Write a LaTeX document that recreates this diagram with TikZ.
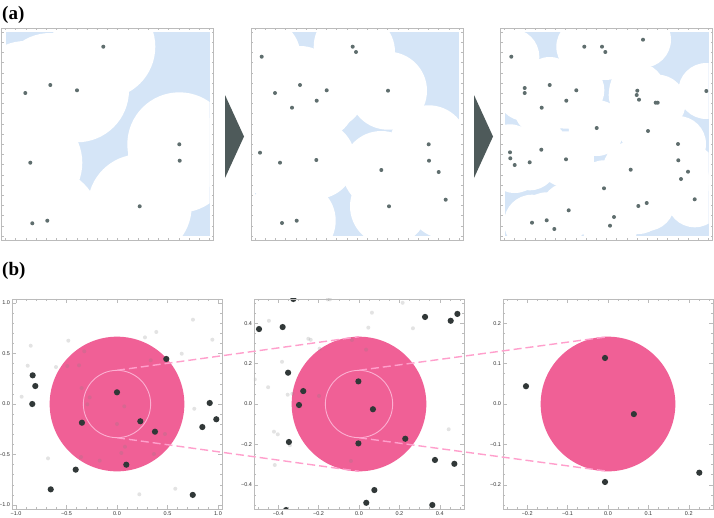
\documentclass[tikz,border=0pt]{standalone}
\usepackage{fontspec}
\setmainfont{Liberation Serif}
\newfontfamily\ticksf{Liberation Sans}
\definecolor{framecol}{HTML}{BBBBBB}
\definecolor{voidblue}{HTML}{D5E5F7}
\definecolor{seed}{HTML}{5F6E6E}
\definecolor{arrowcol}{HTML}{4E5A5A}
\definecolor{discpink}{HTML}{F06096}
\definecolor{ringpink}{HTML}{FCB0D2}
\definecolor{dashpink}{HTML}{FF9FCC}
\definecolor{darkdot}{HTML}{313838}
\definecolor{ticktext}{HTML}{333333}
\tikzset{
  panellabel/.style={font=\bfseries\fontsize{19}{19}\selectfont, anchor=west, inner sep=0pt},
  ticklabel/.style={font=\ticksf\fontsize{5.5}{6}\selectfont, text=ticktext, inner sep=0.3pt},
  zoomline/.style={dashpink, line width=1.4pt, dash pattern=on 8pt off 4pt},
  framebox/.style={draw=framecol, line width=0.6pt},
  tickline/.style={framecol, line width=0.5pt},
  seeddot/.style={fill=seed},
  faintdot/.style={fill=black!50, opacity=0.22},
  solidot/.style={fill=darkdot},
  ring/.style={draw=ringpink, line width=0.9pt},
  pointer/.style={fill=arrowcol},
}
% covering frame of panel (a): #1 left of data area, #2 disc radius, #3 dot list
\newcommand{\coverframe}[3]{%
  \fill[voidblue] (#1,32) rectangle ({#1+204},236);
  \begin{scope}
    \clip (#1,32) rectangle ({#1+204},236);
    \foreach \x/\y in {#3} \fill[white] (\x,\y) circle[radius=#2pt];
  \end{scope}
  \foreach \x/\y in {#3} \fill[seeddot] (\x,\y) circle[radius=2pt];
  \draw[framebox] ({#1-4},28) rectangle ({#1+208},240);
  \foreach \i in {0,...,20}{
    \pgfmathsetmacro\tx{#1+10.2*\i}
    \pgfmathsetmacro\ty{236-10.2*\i}
    \draw[tickline] (\tx,28) -- ++(0,2);
    \draw[tickline] (\tx,240) -- ++(0,-2);
    \draw[tickline] ({#1-4},\ty) -- ++(2,0);
    \draw[tickline] ({#1+208},\ty) -- ++(-2,0);
  }
}
% axes of a plot in panel (b): #1 half range, #2 minor step, #3 minor count, #4 major every, #5 labels, #6 name prefix
\newcommand{\plotaxes}[6]{%
  \draw[framebox] (-#1,-#1) rectangle (#1,#1);
  \foreach \i in {-#3,...,#3}{
    \pgfmathsetmacro\t{\i*#2}
    \pgfmathsetmacro\len{mod(abs(\i),#4)==0 ? 4 : 2.2}
    \draw[tickline] (\t,-#1) -- ++(0pt,\len pt);
    \draw[tickline] (\t,#1) -- ++(0pt,-\len pt);
    \draw[tickline] (-#1,\t) -- ++(\len pt,0pt);
    \draw[tickline] (#1,\t) -- ++(-\len pt,0pt);
  }
  \foreach \v/\l [count=\n] in {#5}{
    \node[ticklabel, anchor=north, yshift=-2.5pt] (#6x\n) at (\v,-#1) {\l};
    \node[ticklabel, anchor=east, xshift=-1.5pt] (#6y\n) at (-#1,\v) {\l};
  }
}
\begin{document}
\begin{tikzpicture}[x=1pt,y=-1pt]
\useasboundingbox (0,0) rectangle (714,517);
\fill[white] (0,0) rectangle (714,517);

% ---------- panel (a)
\node[panellabel] (labela) at (2,15) {(a)};
\coverframe{5.5}{52}{103.3/46.7,50.3/85,77/90.3,25.3/93,30.3/162.7,179.3/144.3,179.7/160.7,139.7/206.3,32.3/223.3,47.3/220.7}
\coverframe{255}{39}{261.7/56.7,352.7/46.7,356/52,300/85,275/93,326.7/90.3,316.7/100.7,292/107.7,388/90.7,260/152.7,280/162.7,316.3/160,381.3/170,428.7/144.3,429/160.7,438.7/172,445.7/199.7,389/206.3,282/223,296.7/220.7}
\coverframe{504.5}{28}{511.3/56.7,584.3/46.7,602/46.7,605.3/52,643/39.7,524.7/88,524.7/93,549.7/85,576.3/90.3,566.3/100.7,541.7/107.7,637.3/90.7,636.7/95,639/99.7,655.7/102.7,657.7/102.7,706.3/91,596.7/128,648/131,541.3/149.7,510/152.3,510.3/158.3,514.7/165,529.7/162.3,566/159.3,630.7/169.7,678/144,678.3/160.3,688/171.7,681/179,604/188.3,694.7/199.3,568.7/210.3,638.3/206,646.7/203,614/217,610/225.7,532/222.7,546.7/220.3,554.3/229}
\fill[pointer] (225,95) -- (244,136.5) -- (225,178) -- cycle;
\fill[pointer] (474,95) -- (493,136.5) -- (474,178) -- cycle;

% ---------- panel (b)
\node[panellabel] (labelb) at (2,271) {(b)};

% plot 1
\begin{scope}[shift={(117pt,-404pt)}, x=101pt, y=101pt]
  \fill[discpink] (0,0) circle[radius=0.6667];
  \begin{scope}
    \clip (-1.04,-1.04) rectangle (1.04,1.04);
    \foreach \x/\y in {-0.854/0.577,-0.884/0.379,-0.944/0.072,-0.482/0.627,-0.604/0.366,-0.492/0.376,-0.376/0.383,-0.324/0.522,0.277/0.660,0.389/0.713,0.752/0.835,0.944/0.637,0.641/0.498,0.334/0.433,-0.350/0.158,-0.270/0.066,-0.294/-0.003,0.072/-0.023,0/-0.198,0.765/-0.047,0.475/-0.297,0.366/-0.495,0.079/-0.423,0.043/-0.485,-0.171/-0.561,-0.356/-0.525,-0.683/-0.538,0.221/-0.894,0.577/-0.839}
      \fill[faintdot] (\x,\y) circle[radius=2pt];
    \foreach \x/\y in {-0.835/0.284,-0.809/0.178,-0.839/0,0/0.116,0.488/0.446,-0.347/-0.185,0.231/-0.171,0.376/-0.274,0.092/-0.601,-0.409/-0.650,-0.656/-0.845,0.75/-0.90,0.918/0.01,0.983/-0.151,0.845/-0.228}
      \fill[solidot] (\x,\y) circle[radius=3.1pt];
  \end{scope}
  \draw[ring] (0,0) circle[radius=0.3333];
  \plotaxes{1.04}{0.1}{10}{5}{-1/−1.0,-0.5/−0.5,0/0.0,0.5/0.5,1/1.0}{pa}
\end{scope}

% plot 2
\begin{scope}[shift={(359pt,-404pt)}, x=202pt, y=202pt]
  \fill[discpink] (0,0) circle[radius=0.3333];
  \begin{scope}
    \clip (-0.52,-0.52) rectangle (0.52,0.52);
    \foreach \x/\y in {-0.446/0.412,-0.251/0.323,-0.239/0.318,-0.195/0.274,-0.381/0.209,-0.450/0.083,-0.353/0.046,-0.330/0.051,-0.198/0.040,-0.516/0.122,-0.155/0.518,-0.144/0.518,-0.035/0.317,0.064/0.452,0.046/0.378,0.216/0.501,0.267/0.375,0.035/0.269,0.444/-0.125,-0.421/-0.137,-0.402/-0.150,-0.342/-0.204,-0.417/-0.302,-0.040/-0.282}
      \fill[faintdot] (\x,\y) circle[radius=2pt];
    \foreach \x/\y in {-0.325/0.52,-0.495/0.371,-0.378/0.381,0.327/0.431,0.454/0.412,0.487/0.446,-0.351/0.155,-0.276/0.064,-0.297/-0.005,-0.003/0.112,0.069/-0.026,-0.347/-0.188,-0.003/-0.195,0.229/-0.172,0.376/-0.277,0.472/-0.296,0.076/-0.426,0.036/-0.489,0.363/-0.5,-0.361/-0.525}
      \fill[solidot] (\x,\y) circle[radius=3.1pt];
  \end{scope}
  \draw[ring] (0,0) circle[radius=0.16667];
  \plotaxes{0.52}{0.05}{10}{4}{-0.4/−0.4,-0.2/−0.2,0/0.0,0.2/0.2,0.4/0.4}{pb}
\end{scope}

% plot 3
\begin{scope}[shift={(608pt,-404pt)}, x=404pt, y=404pt]
  \fill[discpink] (0,0) circle[radius=0.16667];
  \foreach \x/\y in {-0.0074/0.114,-0.203/0.044,0.064/-0.025,-0.0074/-0.193,0.226/-0.170}
    \fill[solidot] (\x,\y) circle[radius=3.1pt];
  \plotaxes{0.26}{0.025}{10}{4}{-0.2/−0.2,-0.1/−0.1,0/0.0,0.1/0.1,0.2/0.2}{pc}
\end{scope}

% zoom connectors
\coordinate (ringtopA) at (117,370.3);
\coordinate (ringbotA) at (117,437.7);
\coordinate (disctopB) at (359,336.7);
\coordinate (discbotB) at (359,471.3);
\coordinate (ringtopB) at (359,370.3);
\coordinate (ringbotB) at (359,437.7);
\coordinate (disctopC) at (608,336.7);
\coordinate (discbotC) at (608,471.3);
\draw[zoomline] (ringtopA) -- (disctopB);
\draw[zoomline] (ringbotA) -- (discbotB);
\draw[zoomline] (ringtopB) -- (disctopC);
\draw[zoomline] (ringbotB) -- (discbotC);
\end{tikzpicture}
\end{document}
